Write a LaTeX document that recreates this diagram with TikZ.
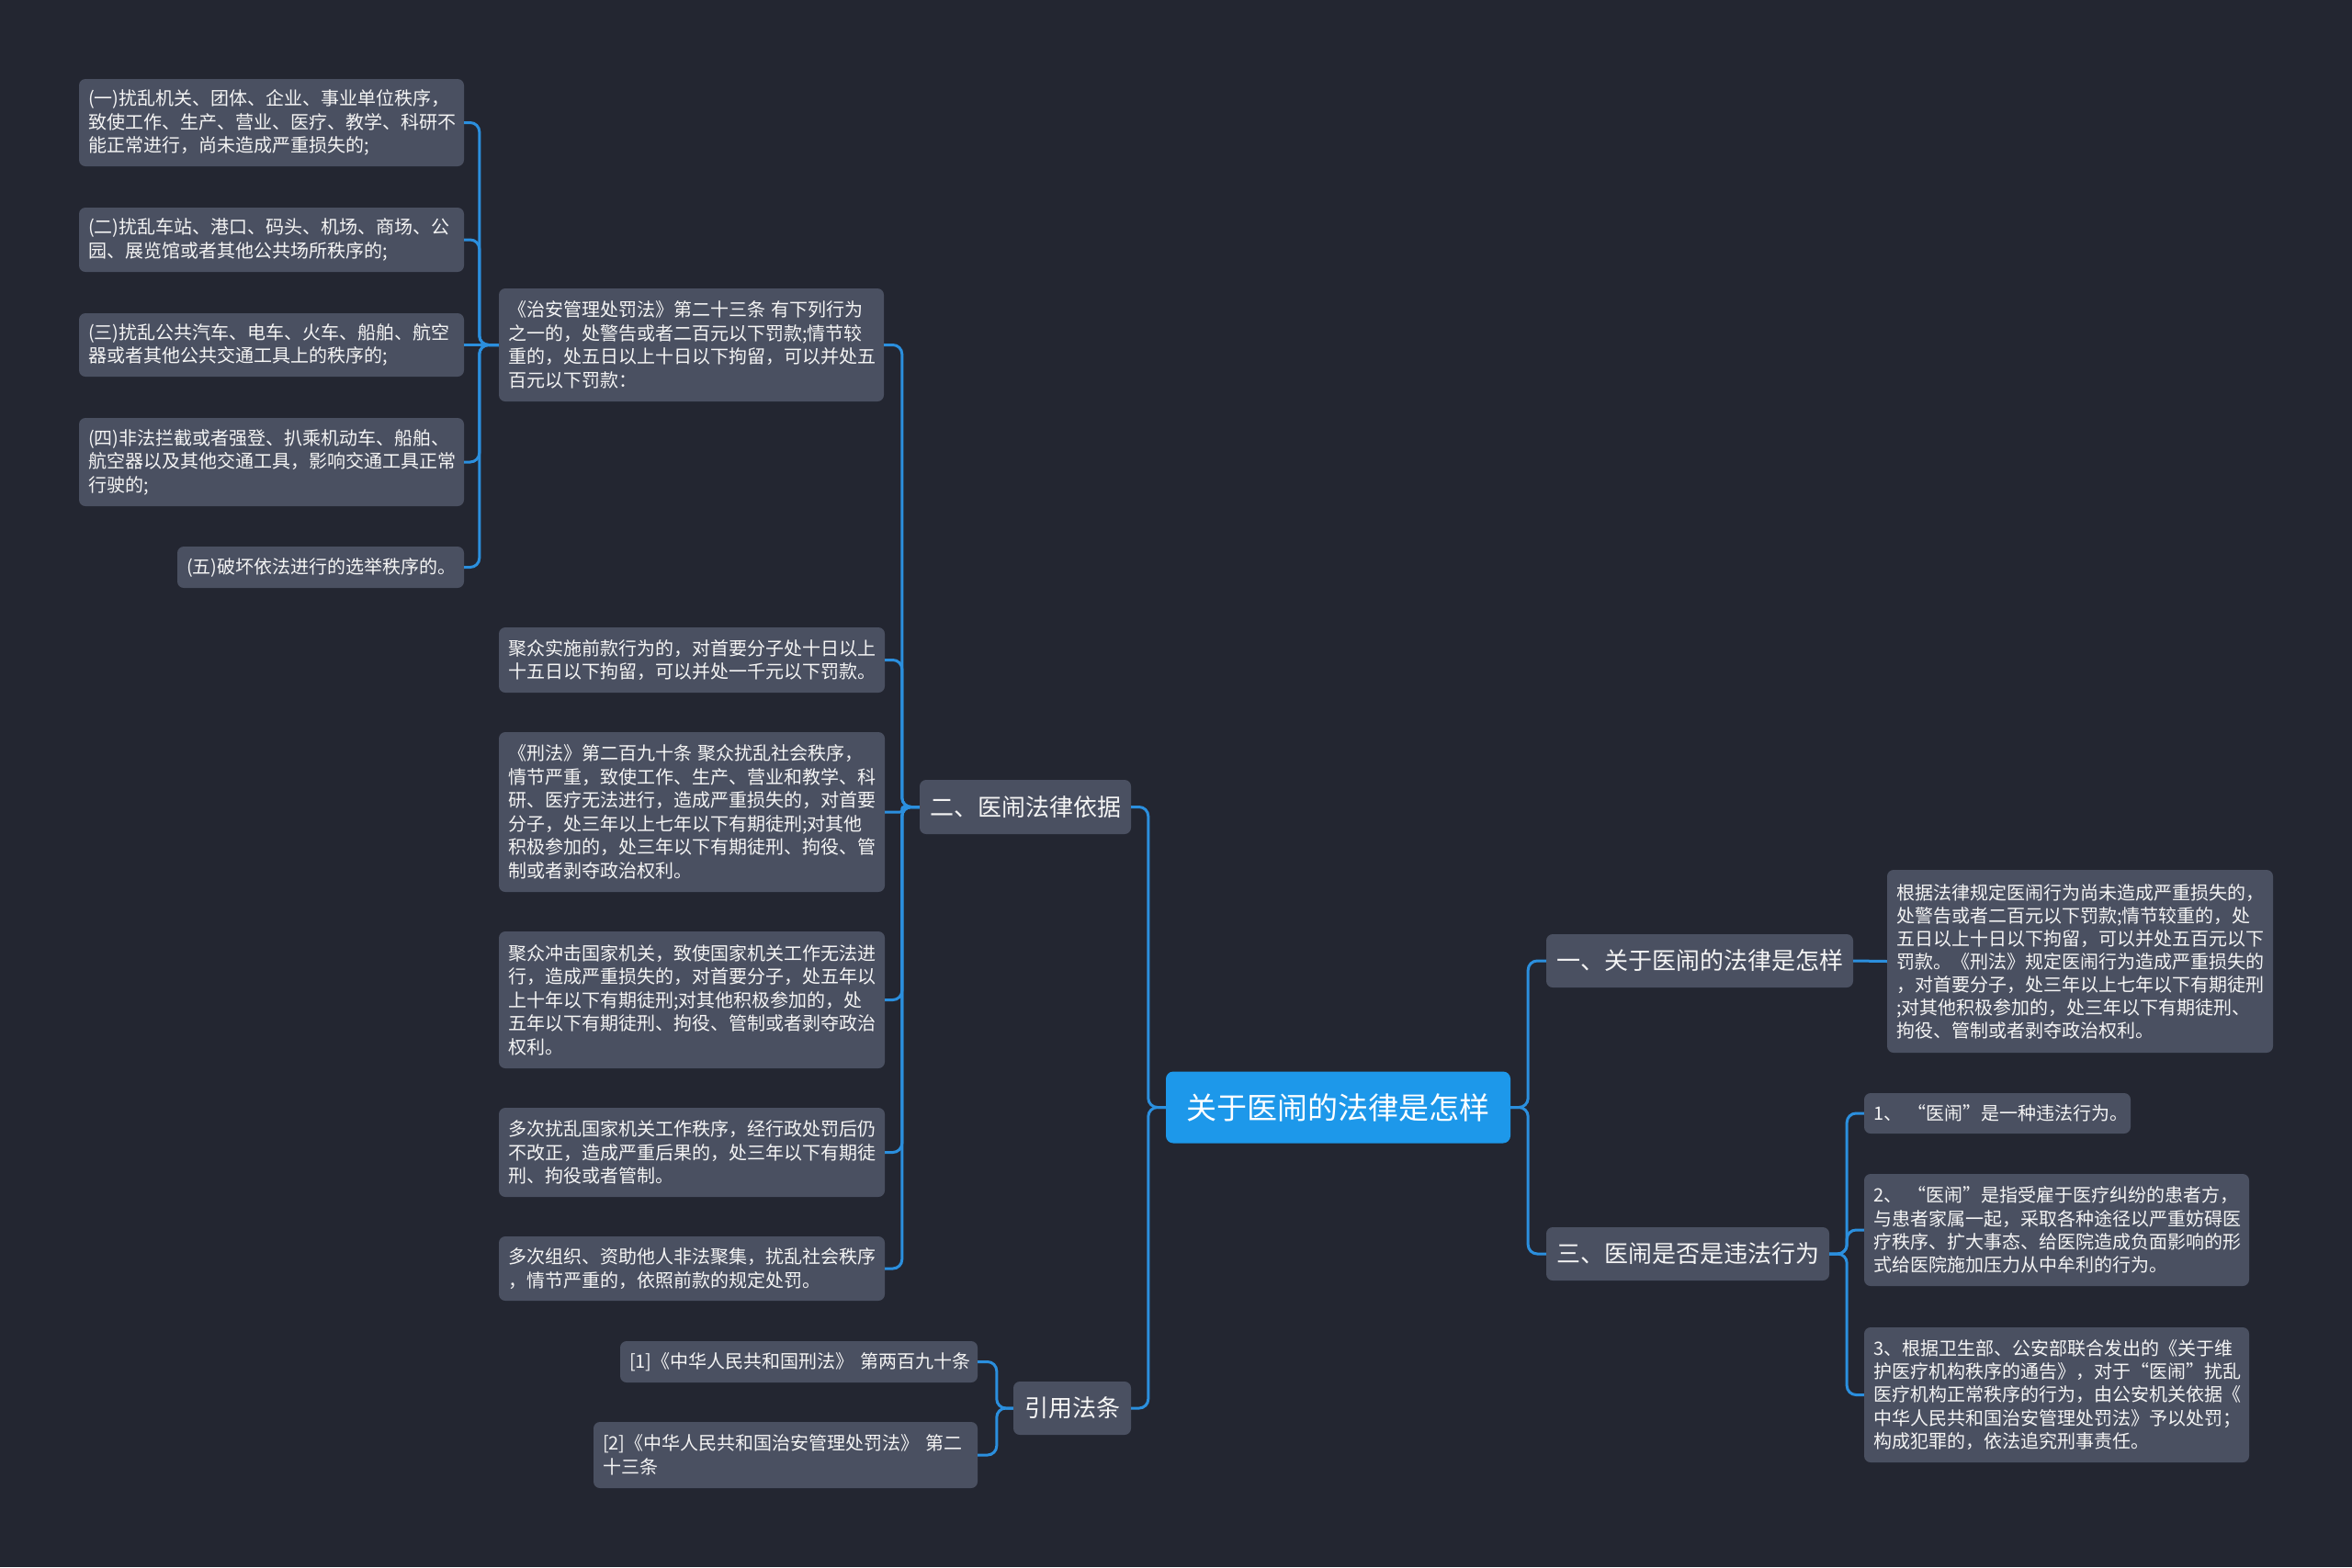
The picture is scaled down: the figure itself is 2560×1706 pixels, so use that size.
\documentclass[tikz,border=0pt]{standalone}
\usepackage{fontspec}
\setmainfont{Noto Sans CJK SC}
\usetikzlibrary{calc}
\definecolor{bg}{HTML}{232631}
\definecolor{nodefill}{HTML}{4A5061}
\definecolor{rootfill}{HTML}{1D98EA}
\definecolor{linecol}{HTML}{2B8FDE}
\definecolor{txt}{HTML}{F4F4F4}
\tikzset{
 leaf/.style={fill=nodefill, rounded corners=7pt, text=txt, font=\fontsize{20pt}{25.5pt}\selectfont, align=left, inner xsep=10pt, inner ysep=0pt},
 branch/.style={fill=nodefill, rounded corners=7pt, text=txt, font=\fontsize{26pt}{30pt}\selectfont, align=center, inner sep=0pt},
 rootnode/.style={fill=rootfill, rounded corners=8pt, text=white, font=\fontsize{33pt}{38pt}\selectfont, align=center, inner sep=0pt},
 conn/.style={draw=linecol, line width=3pt, rounded corners=10pt},
}
\begin{document}
\begin{tikzpicture}[x=1pt,y=-1pt]
\fill[bg] (0,0) rectangle (2560,1706);
\useasboundingbox (0,0) rectangle (2560,1706);

% root and branches
\node[rootnode, minimum width=375pt, minimum height=78pt] (root) at (1456.5,1205.5) {关于医闹的法律是怎样};
\node[branch, minimum width=334pt, minimum height=58pt] (yi) at (1850,1046) {一、关于医闹的法律是怎样};
\node[branch, minimum width=308pt, minimum height=58pt] (san) at (1837,1365) {三、医闹是否是违法行为};
\node[branch, minimum width=230pt, minimum height=59pt] (er) at (1116,878.5) {二、医闹法律依据};
\node[branch, minimum width=128pt, minimum height=58pt] (yy) at (1167,1533) {引用法条};

% right side leaves
\node[leaf, text width=400pt, minimum height=199pt, font=\fontsize{20pt}{25pt}\selectfont] (yleaf) at (2264,1046.5) {根据法律规定医闹行为尚未造成严重损失的，\\处警告或者二百元以下罚款;情节较重的，处\\五日以上十日以下拘留，可以并处五百元以下\\罚款。《刑法》规定医闹行为造成严重损失的\\，对首要分子，处三年以上七年以下有期徒刑\\;对其他积极参加的，处三年以下有期徒刑、\\拘役、管制或者剥夺政治权利。};
\node[leaf, text width=270pt, minimum height=44pt] (s1) at (2174,1212) {1、~“医闹”是一种违法行为。};
\node[leaf, text width=399pt, minimum height=122pt, font=\fontsize{20pt}{25.3pt}\selectfont] (s2) at (2238.5,1339) {2、~“医闹”是指受雇于医疗纠纷的患者方，\\与患者家属一起，采取各种途径以严重妨碍医\\疗秩序、扩大事态、给医院造成负面影响的形\\式给医院施加压力从中牟利的行为。};
\node[leaf, text width=399pt, minimum height=147pt, font=\fontsize{20pt}{25.3pt}\selectfont] (s3) at (2238.5,1518.5) {3、根据卫生部、公安部联合发出的《关于维\\护医疗机构秩序的通告》，对于“医闹”扰乱\\医疗机构正常秩序的行为，由公安机关依据《\\中华人民共和国治安管理处罚法》予以处罚；\\构成犯罪的，依法追究刑事责任。};

% left side: children of 二
\node[leaf, text width=399pt, minimum height=123pt] (zhian) at (752.5,375.5) {《治安管理处罚法》第二十三条~有下列行为\\之一的，处警告或者二百元以下罚款;情节较\\重的，处五日以上十日以下拘留，可以并处五\\百元以下罚款：};
\node[leaf, text width=400pt, minimum height=71pt] (jz1) at (753,718.5) {聚众实施前款行为的，对首要分子处十日以上\\十五日以下拘留，可以并处一千元以下罚款。};
\node[leaf, text width=400pt, minimum height=174pt] (xf) at (753,884) {《刑法》第二百九十条~聚众扰乱社会秩序，\\情节严重，致使工作、生产、营业和教学、科\\研、医疗无法进行，造成严重损失的，对首要\\分子，处三年以上七年以下有期徒刑;对其他\\积极参加的，处三年以下有期徒刑、拘役、管\\制或者剥夺政治权利。};
\node[leaf, text width=400pt, minimum height=149pt] (jz2) at (753,1088.5) {聚众冲击国家机关，致使国家机关工作无法进\\行，造成严重损失的，对首要分子，处五年以\\上十年以下有期徒刑;对其他积极参加的，处\\五年以下有期徒刑、拘役、管制或者剥夺政治\\权利。};
\node[leaf, text width=400pt, minimum height=97pt] (dc1) at (753,1254.5) {多次扰乱国家机关工作秩序，经行政处罚后仍\\不改正，造成严重后果的，处三年以下有期徒\\刑、拘役或者管制。};
\node[leaf, text width=400pt, minimum height=70pt] (dc2) at (753,1381) {多次组织、资助他人非法聚集，扰乱社会秩序\\，情节严重的，依照前款的规定处罚。};

% children of 治安
\node[leaf, text width=399pt, minimum height=95pt] (l1) at (295.5,133.5) {(一)扰乱机关、团体、企业、事业单位秩序，\\致使工作、生产、营业、医疗、教学、科研不\\能正常进行，尚未造成严重损失的;};
\node[leaf, text width=399pt, minimum height=70pt] (l2) at (295.5,261) {(二)扰乱车站、港口、码头、机场、商场、公\\园、展览馆或者其他公共场所秩序的;};
\node[leaf, text width=399pt, minimum height=69pt] (l3) at (295.5,375.5) {(三)扰乱公共汽车、电车、火车、船舶、航空\\器或者其他公共交通工具上的秩序的;};
\node[leaf, text width=399pt, minimum height=96pt] (l4) at (295.5,503) {(四)非法拦截或者强登、扒乘机动车、船舶、\\航空器以及其他交通工具，影响交通工具正常\\行驶的;};
\node[leaf, text width=292pt, minimum height=45pt] (l5) at (349,617.5) {(五)破坏依法进行的选举秩序的。};

% references
\node[leaf, text width=369pt, minimum height=45pt] (r1) at (869.5,1482.5) {[1]《中华人民共和国刑法》~第两百九十条};
\node[leaf, text width=398pt, minimum height=72pt] (r2) at (855,1584) {[2]《中华人民共和国治安管理处罚法》~第二\\十三条};

% connectors: root
\draw[conn] (root.west) -- ++(-19,0) |- (er.east);
\draw[conn] (root.west) -- ++(-19,0) |- (yy.east);
\draw[conn] (root.east) -- ++(19,0) |- (yi.west);
\draw[conn] (root.east) -- ++(19,0) |- (san.west);
% 一
\draw[conn] (yi.east) -- (yleaf.west);
% 三
\draw[conn] (san.east) -- ++(19,0) |- (s1.west);
\draw[conn] (san.east) -- ++(19,0) |- (s2.west);
\draw[conn] (san.east) -- ++(19,0) |- (s3.west);
% 二
\draw[conn] (er.west) -- ++(-19,0) |- (zhian.east);
\draw[conn] (er.west) -- ++(-19,0) |- (jz1.east);
\draw[conn, rounded corners=2pt] (er.west) -- ++(-19,0) |- (xf.east);
\draw[conn] (er.west) -- ++(-19,0) |- (jz2.east);
\draw[conn] (er.west) -- ++(-19,0) |- (dc1.east);
\draw[conn] (er.west) -- ++(-19,0) |- (dc2.east);
% 治安
\draw[conn] (zhian.west) -- ++(-21,0) |- (l1.east);
\draw[conn] (zhian.west) -- ++(-21,0) |- (l2.east);
\draw[conn] (zhian.west) -- (l3.east);
\draw[conn] (zhian.west) -- ++(-21,0) |- (l4.east);
\draw[conn] (zhian.west) -- ++(-21,0) |- (l5.east);
% 引用
\draw[conn] (yy.west) -- ++(-18,0) |- (r1.east);
\draw[conn] (yy.west) -- ++(-18,0) |- (r2.east);
\end{tikzpicture}
\end{document}
